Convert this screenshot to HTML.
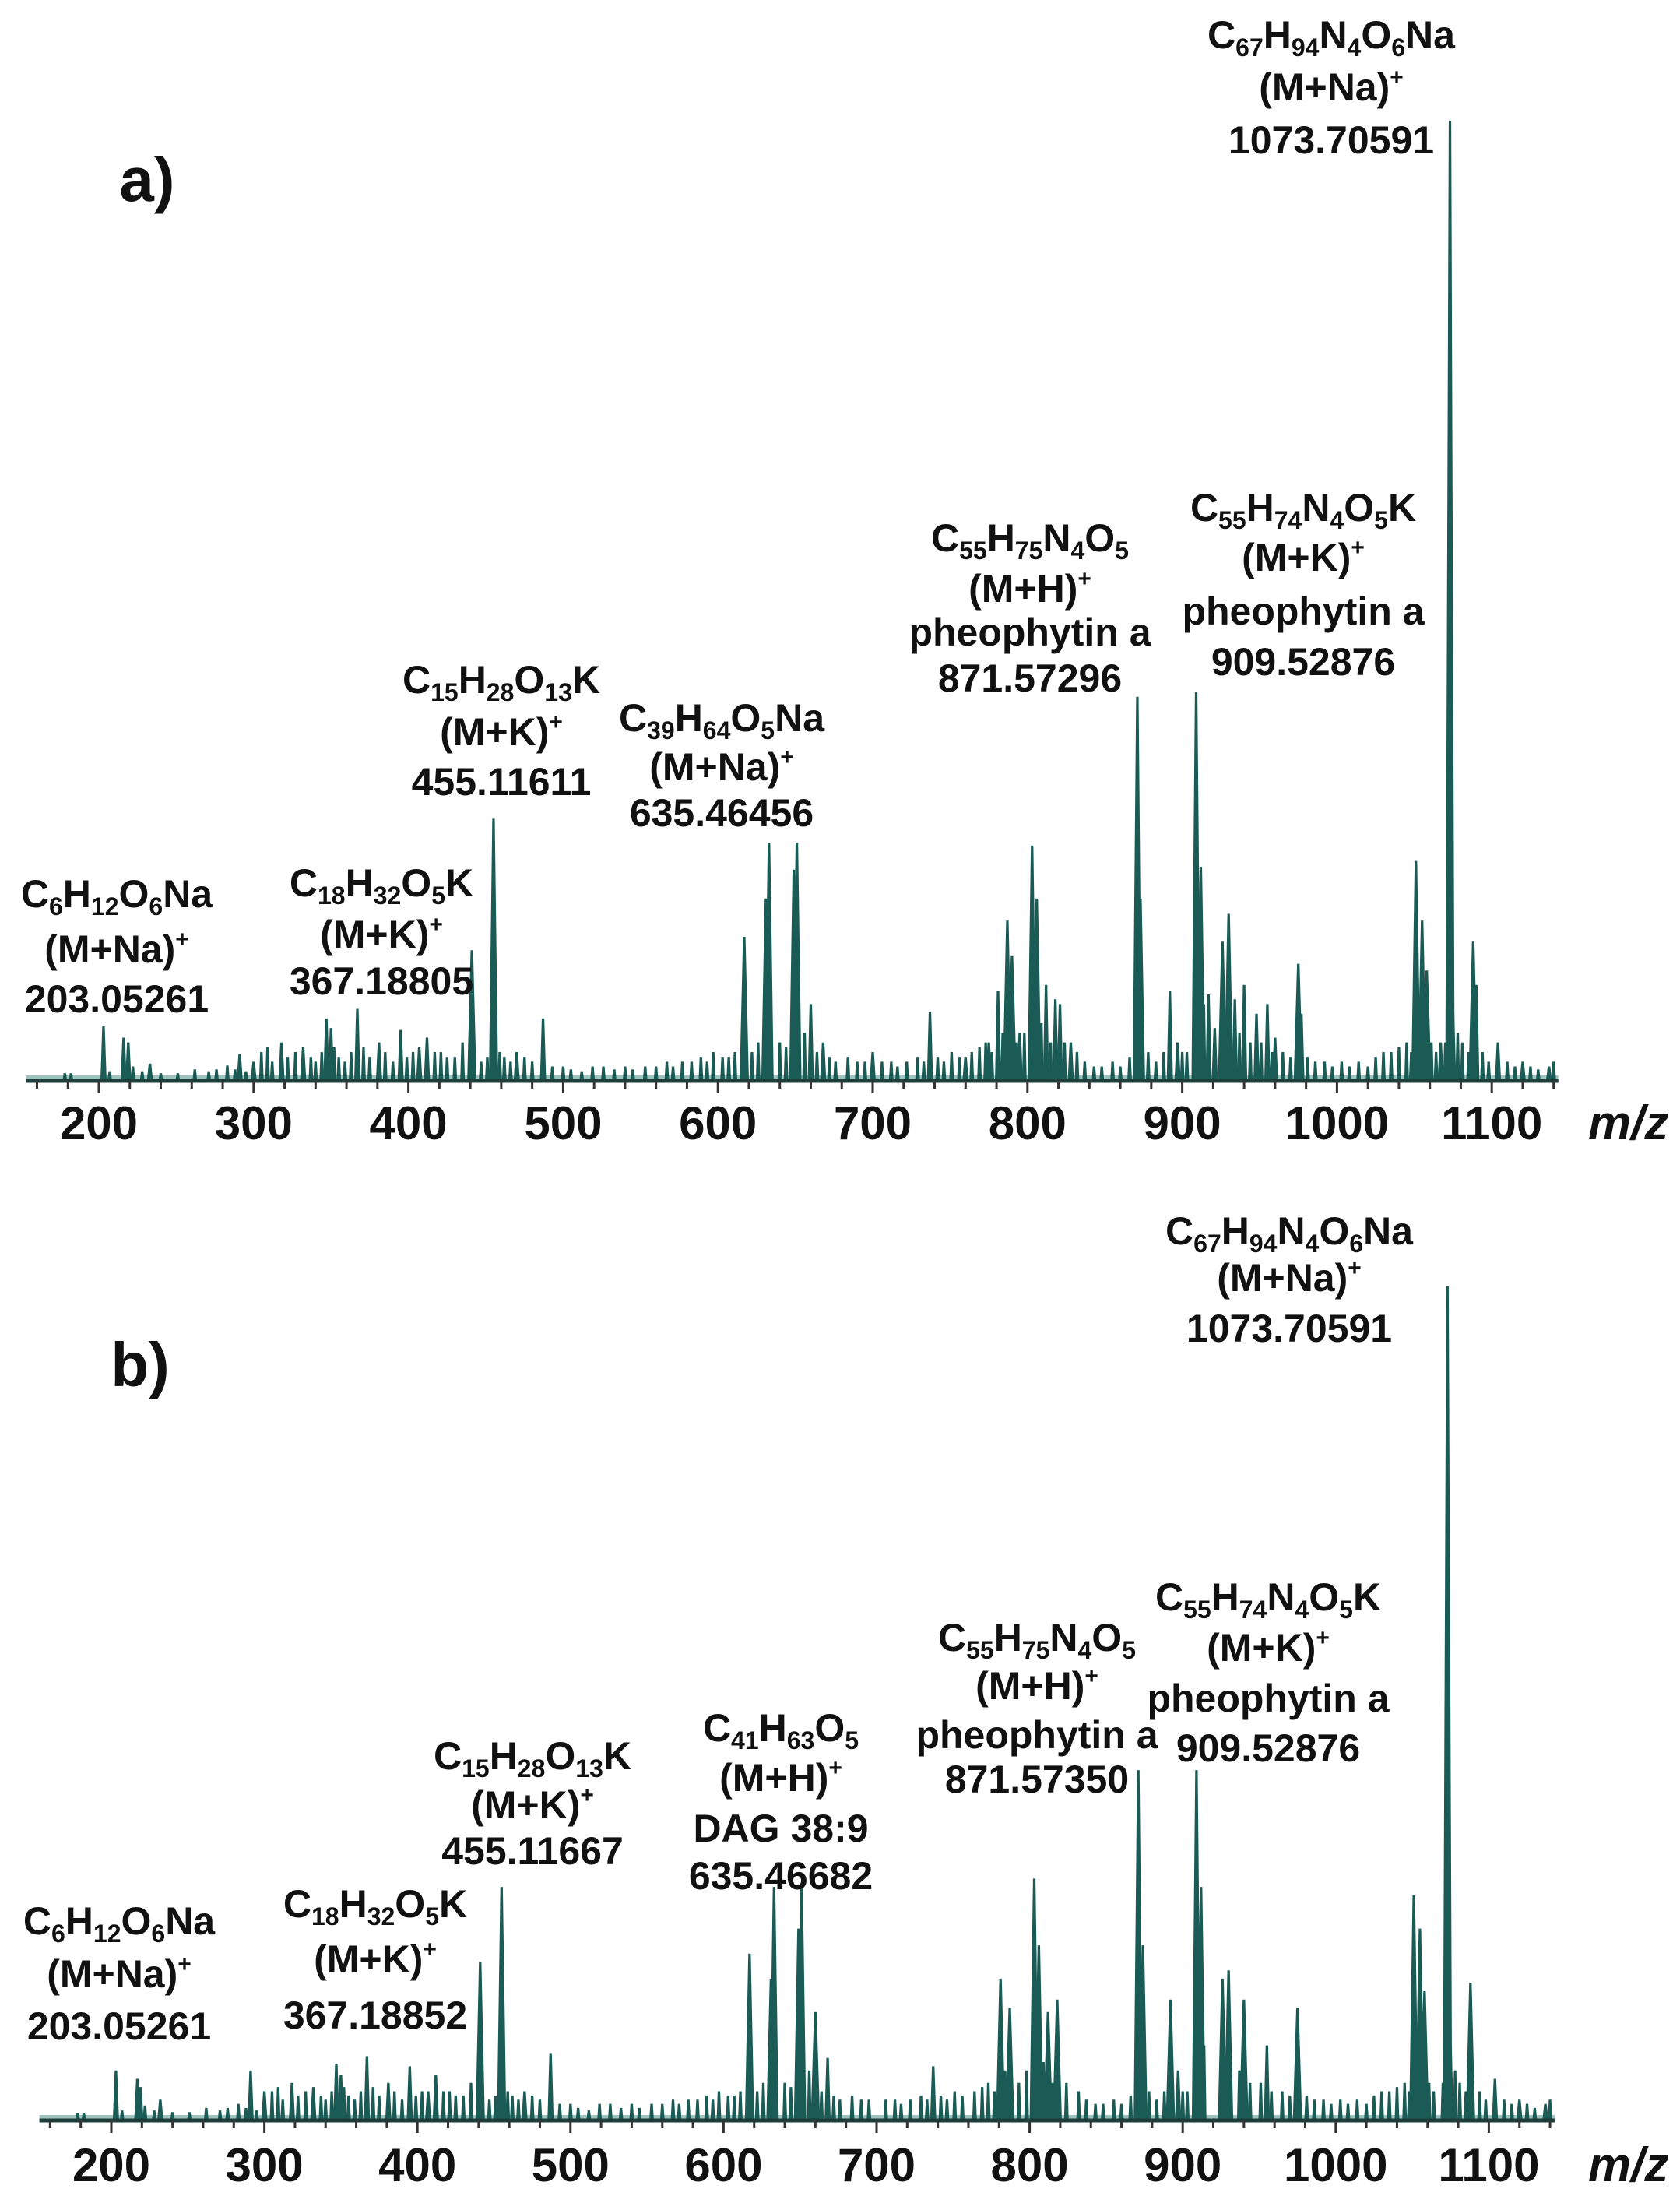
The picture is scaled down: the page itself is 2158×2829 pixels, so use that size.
<!DOCTYPE html>
<html>
<head>
<meta charset="utf-8">
<style>
  html,body{margin:0;padding:0;background:#fff;}
  svg{display:block;}
  text{font-family:"Liberation Sans",sans-serif;}
</style>
</head>
<body>
<svg id="fig" width="2158" height="2829" viewBox="0 0 2158 2829" xmlns="http://www.w3.org/2000/svg">
  <rect x="0" y="0" width="2158" height="2829" fill="#ffffff"/>
  <g id="panelA"></g>
  <g id="panelB"></g>
</svg>
<script>
// ---------- DATA ----------
// Major peaks (m/z) and relative intensities (%) - panel a
const majorMzA = [203,216,219,233,291,300,318,332,347,350,367,381,395,407,412,441,455,470,487,617,631,633,649,651,660,668,700,737,760,775,781,787,790,795,803,806,812,818,821,828,871,873,892,897,909,912,917,921,926,930,934,940,948,955,960,975,977,1051,1055,1058,1067,1073,1075,1088,1090,1104,1120,1137];
const majorIntA = [5.7,4.5,4,1.8,2.8,2,4,3.5,6.5,5.5,7.5,4,5.3,3.5,4.5,13.6,27.3,3,6.5,15,19,24.8,22,24.8,8,4,3,7.2,2.5,4,9.4,16.7,13,5,24.5,19,10,8.5,8,4,40,19,9.4,4,40.5,22.3,9,5.5,14.5,17.4,8.5,10,7,8,4.5,12.2,7,22.9,16.7,11.5,4,100,7,14.5,10,4,2,1.5];
// Major peaks - panel b
const majorMzB = [203,217,219,232,291,300,318,332,347,350,367,381,395,407,412,441,455,470,487,617,631,633,649,651,660,668,737,781,787,803,806,812,818,871,874,892,897,909,912,926,930,940,955,975,1051,1055,1058,1073,1075,1088,1104,1120,1137];
const majorIntB = [6,5,4,2.5,6,3.5,4.5,4,6.8,5.5,7.7,4.5,6.5,3.5,5.5,19,28,3.5,8,20,17,28,23,28,13,7.5,6.5,17,13.5,29,21,13,14.5,42,21,14.5,6,42,28,17,18,14.5,9,13.5,27,23,15.5,100,9,16.5,5,2.5,2];
// Minor / background peaks (shared m/z grid)
const minorMz = [178,182,207,222,228,240,251,262,271,276,283,288,295,305,309,312,322,327,337,340,344,352,355,359,363,371,375,385,390,399,403,417,421,425,430,435,447,451,459,462,466,475,480,493,500,505,512,519,526,533,540,545,553,560,567,571,577,583,589,593,597,603,607,611,622,626,640,644,656,664,672,676,684,690,695,706,712,716,722,729,733,742,746,751,756,764,769,773,777,784,793,798,809,815,824,832,837,843,848,855,860,866,878,883,888,900,903,914,937,944,951,958,965,970,981,986,992,997,1003,1008,1014,1020,1025,1030,1035,1040,1045,1048,1061,1064,1070,1078,1081,1085,1094,1098,1110,1115,1125,1130,1140];
const minorIntA = [0.8,0.8,1,1.5,1,0.8,0.8,1.2,1,1.2,1.6,1.2,1,3,3.5,2,2.5,3,2.5,2,3,3.5,2.5,2,3,3.5,2.5,3,2,2.5,3,3,3,2.5,2.5,4,2,2.5,3,2.5,2,2.5,2,1.5,1.5,1.2,1,1.5,1.5,1.2,1.5,1.2,1.5,1.5,2,1.5,2,2,2.5,2,3,2.5,2.5,3,3,4,4,3.5,5,3,2.5,2,2.5,2,2,2,2,1.5,2,2.5,2,2.5,2,3,2.5,3,3.5,4,3,5,4,5,6,4,4,3,2,1.5,1.5,2,1.5,2.5,3,2,3,3,3,8,5,4,4,3,3,2.5,2.5,2,2,1.5,2,1.5,2,1.5,2.5,3,3,3.5,4,3,4,3,4,5,4,3,3,2,2,1.5,1.5,1.2,2];
const minorIntB = [0.9,0.9,1.2,1.8,1.2,1,1,1.5,1.2,1.5,2,1.5,1.2,3.5,4,2.5,3,3.5,3,2.5,3.5,4,3,2.5,3.5,4,3,3.5,2.5,3,3.5,3.5,3.5,3,3,4.5,2.5,3,3.5,3,2.5,3,2.5,2,2,1.5,1.2,2,2,1.5,2,1.5,2,2,2.5,2,2.5,2.5,3,2.5,3.5,3,3,3.5,3.5,4.5,4.5,4,6,3.5,3,2.5,3,2.5,2.5,2.5,2.5,2,2.5,3,2.5,3,2.5,3.5,3,3.5,4,4.5,3.5,6,4.5,6,7,4.5,4.5,3.5,2.5,2,2,2.5,2,3,3.5,2.5,3.5,3.5,3.5,9,6,4.5,4.5,3.5,3.5,3,3,2.5,2.5,2,2.5,2,2.5,2,3,3.5,3.5,4,4.5,3.5,4.5,3.5,4.5,6,4.5,3.5,3.5,2.5,2.5,2,2,1.5,2.5];
// Axis ticks
const majorTicks = [200,300,400,500,600,700,800,900,1000,1100];
const tickLabels = ["200","300","400","500","600","700","800","900","1000","1100"];
const minorTickStep = 20;
const axisMin = 153, axisMax = 1143;

// Annotation label text
const labelsA = [
  {mz:203.05, lines:["C_{6}H_{12}O_{6}Na","(M+Na)^{+}","203.05261"]},
  {mz:367.19, lines:["C_{18}H_{32}O_{5}K","(M+K)^{+}","367.18805"]},
  {mz:455.12, lines:["C_{15}H_{28}O_{13}K","(M+K)^{+}","455.11611"]},
  {mz:635.46, lines:["C_{39}H_{64}O_{5}Na","(M+Na)^{+}","635.46456"]},
  {mz:871.57, lines:["C_{55}H_{75}N_{4}O_{5}","(M+H)^{+}","pheophytin a","871.57296"]},
  {mz:909.53, lines:["C_{55}H_{74}N_{4}O_{5}K","(M+K)^{+}","pheophytin a","909.52876"]},
  {mz:1073.71, lines:["C_{67}H_{94}N_{4}O_{6}Na","(M+Na)^{+}","1073.70591"]}
];
const labelsB = [
  {mz:203.05, lines:["C_{6}H_{12}O_{6}Na","(M+Na)^{+}","203.05261"]},
  {mz:367.19, lines:["C_{18}H_{32}O_{5}K","(M+K)^{+}","367.18852"]},
  {mz:455.12, lines:["C_{15}H_{28}O_{13}K","(M+K)^{+}","455.11667"]},
  {mz:635.47, lines:["C_{41}H_{63}O_{5}","(M+H)^{+}","DAG 38:9","635.46682"]},
  {mz:871.57, lines:["C_{55}H_{75}N_{4}O_{5}","(M+H)^{+}","pheophytin a","871.57350"]},
  {mz:909.53, lines:["C_{55}H_{74}N_{4}O_{5}K","(M+K)^{+}","pheophytin a","909.52876"]},
  {mz:1073.71, lines:["C_{67}H_{94}N_{4}O_{6}Na","(M+Na)^{+}","1073.70591"]}
];

// ---------- LAYOUT (not data) ----------
const layoutA = {x0:127, pxPerUnit:1.988, axisY:1388, fullH:1233, letter:"a)", letterX:189, letterY:258,
  labelPos:[[150,[1165,1236,1300]],[490,[1151,1217,1277]],[644,[890,957,1021]],[927,[939,1002,1061]],[1323,[708,773,829,888]],[1674,[669,733,802,867]],[1710,[62,129,197]]],
  tickBase:1463, mzX:2040};
const layoutB = {x0:143, pxPerUnit:1.966, axisY:2723, fullH:1071, letter:"b)", letterX:180, letterY:1780,
  labelPos:[[153,[2484,2552,2619]],[482,[2462,2533,2605]],[684,[2272,2335,2394]],[1003,[2236,2300,2365,2426]],[1332,[2120,2182,2245,2302]],[1629,[2068,2133,2198,2262]],[1656,[1598,1658,1723]]],
  tickBase:2801, mzX:2040};

const NS = "http://www.w3.org/2000/svg";
const TEAL = "#1b5b56";

function mk(tag, attrs, parent){
  const el = document.createElementNS(NS, tag);
  for (const k in attrs) el.setAttribute(k, attrs[k]);
  if (parent) parent.appendChild(el);
  return el;
}

function addRichText(parent, str, cx, baseline){
  const t = mk("text", {x:cx, y:baseline, "text-anchor":"middle", "font-size":"50", "font-weight":"bold", fill:"#111"}, parent);
  const re = /(_\{[^}]*\}|\^\{[^}]*\}|[^_^]+)/g;
  let m, shift = 0;
  while ((m = re.exec(str)) !== null){
    const s = m[0];
    const ts = document.createElementNS(NS, "tspan");
    if (s[0] === "_"){
      ts.textContent = s.slice(2,-1);
      ts.setAttribute("font-size","32");
      ts.setAttribute("dy", String(10 - shift)); shift = 10;
    } else if (s[0] === "^"){
      ts.textContent = s.slice(2,-1);
      ts.setAttribute("font-size","30");
      ts.setAttribute("dy", String(-20 - shift)); shift = -20;
    } else {
      ts.textContent = s;
      ts.setAttribute("dy", String(-shift)); shift = 0;
    }
    t.appendChild(ts);
  }
  return t;
}

function drawPanel(g, L, majorMz, majorInt, minorInt, labels){
  const xs = m => L.x0 + (m - 200) * L.pxPerUnit;
  const ys = v => L.axisY - v / 100 * L.fullH;

  const band = mk("rect", {x:xs(axisMin), y:L.axisY-7, width:xs(axisMax)-xs(axisMin), height:7, fill:"#9fc3bf"}, g);
  
  

  const peaksG = mk("g", {}, g);
  
  
  function peak(m, v, hw, name){
    const x = xs(m), yt = ys(v), y0 = L.axisY;
    const p = mk("path", {d:`M${x-hw},${y0} L${x-1.6},${yt} L${x+1.6},${yt} L${x+hw},${y0} Z`, fill:TEAL}, peaksG);
    
    
  }
  for (let i=0;i<minorMz.length;i++) peak(minorMz[i], minorInt[i], 3, 'minor-peak');
  for (let i=0;i<majorMz.length;i++) peak(majorMz[i], majorInt[i], majorInt[i] > 10 ? 6 : 4, 'peak-' + majorMz[i]);

  const ax = mk("line", {x1:xs(axisMin), y1:L.axisY, x2:xs(axisMax), y2:L.axisY, stroke:"#1e3e3b", "stroke-width":"5"}, g);
  
  

  const tg = mk("g", {}, g);
  
  
  for (let m = 160; m <= axisMax; m += minorTickStep){
    const isMajor = majorTicks.indexOf(m) >= 0;
    const x = xs(m);
    mk("line", {x1:x, y1:L.axisY, x2:x, y2:L.axisY + (isMajor ? 16 : 10), stroke:"#333", "stroke-width":"3"}, tg);
  }
  for (let i=0;i<majorTicks.length;i++){
    const t = mk("text", {x:xs(majorTicks[i]), y:L.tickBase, "text-anchor":"middle", "font-size":"60", "font-weight":"bold", fill:"#111"}, g);
    t.textContent = tickLabels[i];
    
    
  }
  const mz = mk("text", {x:L.mzX, y:L.tickBase, "font-size":"62", "font-weight":"bold", "font-style":"italic", fill:"#111"}, g);
  mz.textContent = "m/z";
  
  

  const lt = mk("text", {x:L.letterX, y:L.letterY, "text-anchor":"middle", "font-size":"80", "font-weight":"bold", fill:"#111"}, g);
  lt.textContent = L.letter;
  
  

  for (let i=0;i<labels.length;i++){
    const ag = mk("g", {}, g);
    
    
    const pos = L.labelPos[i];
    labels[i].lines.forEach((ln, j) => addRichText(ag, ln, pos[0], pos[1][j]));
  }
}

drawPanel(document.getElementById("panelA"), layoutA, majorMzA, majorIntA, minorIntA, labelsA);
drawPanel(document.getElementById("panelB"), layoutB, majorMzB, majorIntB, minorIntB, labelsB);
</script>
</body>
</html>
